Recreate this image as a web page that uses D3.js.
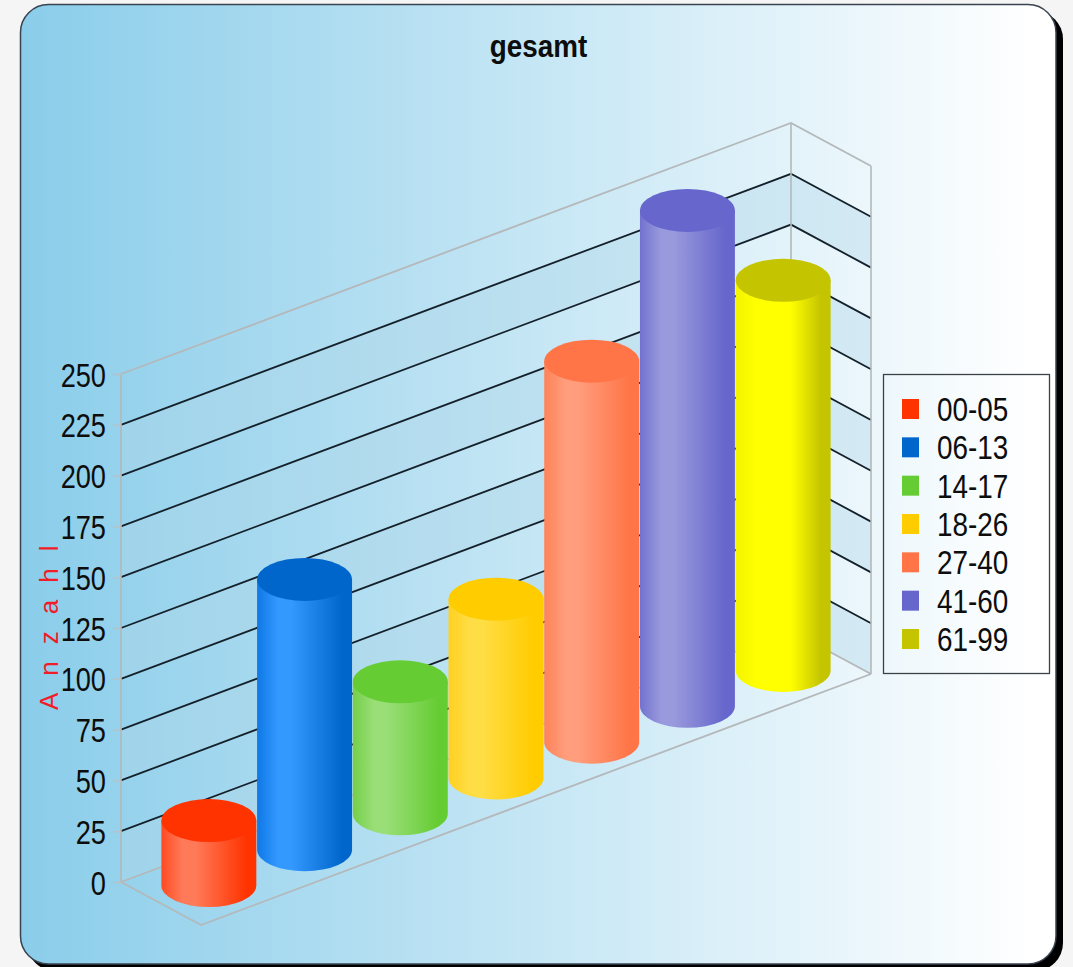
<!DOCTYPE html>
<html>
<head>
<meta charset="utf-8">
<title>gesamt</title>
<script src="https://cdn.jsdelivr.net/npm/d3@7"></script>
<style>
  html, body { margin: 0; padding: 0; background: #f5f5f5; overflow: hidden; }
  svg { display: block; font-family: "Liberation Sans", Arial, sans-serif; }
</style>
</head>
<body>
<svg id="chart" width="1073" height="967"></svg>
<script>
// values
const categories = ["00-05", "06-13", "14-17", "18-26", "27-40", "41-60", "61-99"];
const values = [32, 133, 65, 88, 187.5, 244, 192];
const yTicks = [0, 25, 50, 75, 100, 125, 150, 175, 200, 225, 250];

// top colour, highlight colour, left edge colour
const topColors = ["#ff3300", "#0066cc", "#66cc33", "#ffcc00", "#ff7548", "#6666cc", "#c4c400"];
const lightColors = ["#ff7a58", "#3399ff", "#99de77", "#ffdd44", "#ff9d7c", "#9999dd", "#ffff00"];
const edgeColors = ["#ff4a22", "#0f78e6", "#74cf48", "#ffd020", "#ff8258", "#7272cf", "#f4f400"];

const svg = d3.select("#chart");
const defs = svg.append("defs");

// plot box: front of the left wall, then how far the floor runs right and back
const originX = 121, originY = 882;
const floorW = 670, floorRise = 251;
const depthX = 80, depthY = 43;
const wallH = 508;

const x = d3.scaleBand().domain(categories).range([0, floorW]);
const y = d3.scaleLinear().domain([0, 250]).range([originY, originY - wallH]);
const rise = d3.scaleLinear().domain([0, floorW]).range([0, floorRise]);

// background card
const bg = defs.append("linearGradient").attr("id", "bg");
bg.append("stop").attr("offset", "0%").attr("stop-color", "#8acdea");
bg.append("stop").attr("offset", "98%").attr("stop-color", "#ffffff");

svg.append("rect").attr("x", 27).attr("y", 11).attr("width", 1036).attr("height", 960).attr("rx", 28).attr("fill", "#000");
svg.append("rect").attr("x", 20.5).attr("y", 4.5).attr("width", 1035.5).attr("height", 959.5).attr("rx", 28)
  .attr("fill", "url(#bg)").attr("stroke", "#3a4450").attr("stroke-width", 1.5);

// title
svg.append("text")
  .attr("transform", "translate(538.5,57) scale(.87,1)")
  .attr("text-anchor", "middle")
  .attr("font-size", 32)
  .attr("font-weight", "bold")
  .attr("fill", "#0d0d0d")
  .text("gesamt");

// walls
const backX = originX + floorW;
const wall = svg.append("g");

// every second band has a faint tint, close to the background colour on the left
for (let i = 0; i < yTicks.length - 1; i += 2) {
  const lo = y(yTicks[i]), hi = y(yTicks[i + 1]);
  wall.append("path")
    .attr("d", `M${originX},${lo} L${backX},${lo - floorRise} L${backX + depthX},${lo - floorRise + depthY} L${backX + depthX},${hi - floorRise + depthY} L${backX},${hi - floorRise} L${originX},${hi} Z`)
    .attr("fill", "#aed6e8")
    .attr("fill-opacity", 0.4);
}

// grid lines, first and last are grey
const grey = "#b4b8ba";
yTicks.forEach(t => {
  const py = y(t);
  const isEdge = t === 0 || t === 250;
  wall.append("path")
    .attr("d", `M${originX},${py} L${backX},${py - floorRise} L${backX + depthX},${py - floorRise + depthY}`)
    .attr("fill", "none")
    .attr("stroke", isEdge ? grey : "#14202a")
    .attr("stroke-width", isEdge ? 1.8 : 1.8);
});

// floor and upright edges
wall.append("path")
  .attr("d", `M${originX},${y(0)} L${originX + depthX},${y(0) + depthY} L${backX + depthX},${y(0) - floorRise + depthY}`)
  .attr("fill", "none").attr("stroke", grey).attr("stroke-width", 1.8);
[[originX, 0], [backX, -floorRise], [backX + depthX, depthY - floorRise]].forEach(([px, dy]) => {
  wall.append("line")
    .attr("x1", px).attr("x2", px)
    .attr("y1", y(0) + dy).attr("y2", y(250) + dy)
    .attr("stroke", grey).attr("stroke-width", 1.6);
});

// y axis
const axis = svg.append("g")
  .attr("transform", `translate(${originX},0)`)
  .call(d3.axisLeft(y).tickValues(yTicks).tickSize(8).tickFormat(d3.format("d")));
axis.select(".domain").remove();
axis.selectAll(".tick line").attr("stroke", "#bcc0c2").attr("stroke-width", 1.4);
axis.selectAll(".tick text")
  .attr("x", null).attr("dy", null)
  .attr("transform", "translate(-15,12) scale(.8,1)")
  .attr("text-anchor", "end")
  .attr("font-size", 34)
  .attr("font-family", "Liberation Sans")
  .attr("fill", "#0d0d0d");

// axis title
svg.append("text")
  .attr("transform", "translate(58,710) rotate(-90)")
  .attr("font-size", 26)
  .attr("letter-spacing", 17)
  .attr("fill", "#f01c28")
  .text("Anzahl");

// cylinders
const rx = x.bandwidth() * 0.496;
const ry = depthY / 2;
const bars = svg.append("g");

categories.forEach((c, i) => {
  const yellow = i === 6;
  const grad = defs.append("linearGradient").attr("id", "bar" + i);
  grad.append("stop").attr("offset", "0%").attr("stop-color", edgeColors[i]);
  grad.append("stop").attr("offset", "22%").attr("stop-color", lightColors[i]);
  grad.append("stop").attr("offset", yellow ? "58%" : "36%").attr("stop-color", lightColors[i]);
  grad.append("stop").attr("offset", "90%").attr("stop-color", topColors[i]);

  const u = x(c) + x.bandwidth() / 2;
  const cx = originX + u + depthX / 2;
  const shift = depthY / 2 - rise(u);
  const baseY = y(0) + shift;
  const topY = y(values[i]) + shift;

  bars.append("path")
    .attr("d", `M${cx - rx},${topY} L${cx - rx},${baseY} A${rx},${ry} 0 0 0 ${cx + rx},${baseY} L${cx + rx},${topY} Z`)
    .attr("fill", `url(#bar${i})`);
  bars.append("ellipse")
    .attr("cx", cx).attr("cy", topY)
    .attr("rx", rx).attr("ry", ry)
    .attr("fill", topColors[i]);
});

// legend
const legend = svg.append("g");
legend.append("rect")
  .attr("x", 883.5).attr("y", 374.5).attr("width", 166).attr("height", 299)
  .attr("fill", "none").attr("stroke", "#3a4248").attr("stroke-width", 1.3);

const legendY = d3.scalePoint().domain(categories).range([409, 639]);
categories.forEach((c, i) => {
  legend.append("rect")
    .attr("x", 902).attr("y", legendY(c) - 10)
    .attr("width", 17).attr("height", 20)
    .attr("fill", topColors[i]);
  legend.append("text")
    .attr("transform", `translate(937,${legendY(c) + 12}) scale(.82,1)`)
    .attr("font-size", 34)
    .attr("fill", "#0d0d0d")
    .text(c);
});
</script>
</body>
</html>
